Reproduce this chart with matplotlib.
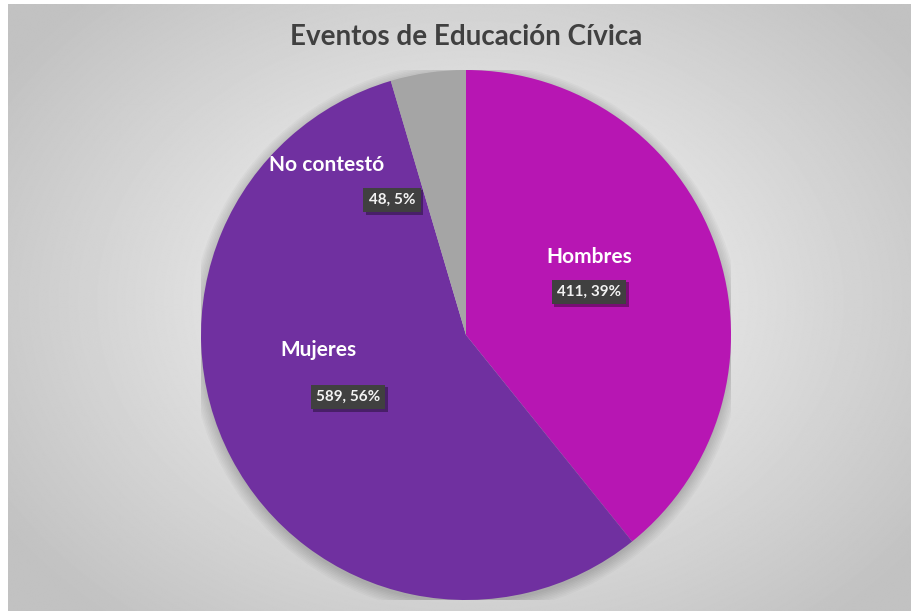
import numpy as np
import matplotlib
matplotlib.use("Agg")
import matplotlib.pyplot as plt
import matplotlib.patheffects as pe

labels = ["Hombres", "Mujeres", "No contestó"]
values = [411, 589, 48]
percents = ["39%", "56%", "5%"]
colors = ["#B716B3", "#7030A0", "#A5A5A5"]
title = "Eventos de Educación Cívica"

W, H = 911, 613
plt.rcParams['font.family'] = ['Lato', 'DejaVu Sans']

fig = plt.figure(figsize=(W / 100, H / 100), dpi=100)
fig.patch.set_facecolor("white")

# radial gradient background
bg = fig.add_axes([8 / W, 2 / H, (W - 8) / W, (H - 6) / H])
yy, xx = np.mgrid[0:H, 0:W]
d = np.sqrt(((xx - 466) / 560.0) ** 2 + ((yy - 300) / 420.0) ** 2)
shade = 1.0 - 0.24 * np.clip(d, 0, 1) ** 0.9
bg.imshow(shade, cmap="gray", vmin=0, vmax=1, aspect="auto", extent=[0, 1, 0, 1])
bg.axis("off")

# pie axes: centre (466, 335) px, radius 265 px
cx, cy, r = 466, 335, 265
ax = fig.add_axes([(cx - r) / W, 1 - (cy + r) / H, 2 * r / W, 2 * r / H])
# soft shadow
for k in range(8):
    ax.add_patch(plt.Circle((0, -0.012), 1.0 + 0.006 * k, color="black",
                            alpha=0.025, zorder=0, lw=0))
ax.pie(values, colors=colors, startangle=90, counterclock=False, radius=1,
       wedgeprops=dict(linewidth=0))
ax.set_xlim(-1.05, 1.05)
ax.set_ylim(-1.05, 1.05)
ax.set_xlim(-1, 1)
ax.set_ylim(-1, 1)
ax.set_aspect("auto")
ax.axis("off")

fig.text(466 / W, 1 - 37 / H, title, ha="center", va="center",
         fontsize=20, fontweight="bold", color="#404040")

name_pos = [(589, 257), (318, 350), (327, 165)]
box_pos = [(589, 292), (348, 397), (392, 200)]
for lab, v, p, (nx, ny), (bx, by) in zip(labels, values, percents, name_pos, box_pos):
    fig.text(nx / W, 1 - ny / H, lab, ha="center", va="center",
             fontsize=15, fontweight="bold", color="white")
    t = fig.text(bx / W, 1 - by / H, f"{v}, {p}", ha="center", va="center",
                 fontsize=11, fontweight="bold", color="#F2F2F2",
                 bbox=dict(boxstyle="square,pad=0.35", fc="#404040", ec="none"))
    t.get_bbox_patch().set_path_effects([
        pe.SimplePatchShadow(offset=(2, -2), shadow_rgbFace="black", alpha=0.35),
        pe.Normal()])

fig.savefig("out.png", dpi=100)
